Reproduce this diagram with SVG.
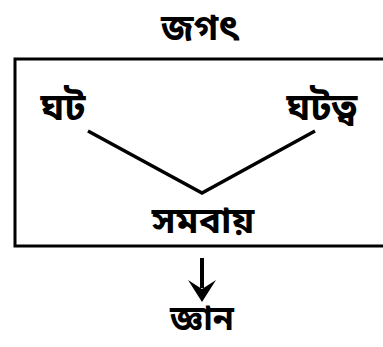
<svg xmlns="http://www.w3.org/2000/svg" width="383" height="347" viewBox="0 0 383 347">
<style>
text{font-family:"Noto Sans Bengali","Noto Sans","DejaVu Sans",sans-serif;font-weight:bold;fill:#000;text-anchor:middle}
.l{stroke:#000;stroke-width:3;fill:none}
</style>
<rect width="383" height="347" fill="#fff"/>
<g id="node-jagat"><text x="200" y="40" font-size="36">জগৎ</text></g>
<g id="frame"><path class="l" d="M384,59 H15 V246 H384"/></g>
<g id="node-ghata"><text x="63" y="120" font-size="38">ঘট</text></g>
<g id="node-ghatatva"><text x="322" y="120" font-size="38">ঘটত্ব</text></g>
<g id="node-samavaya"><text x="203" y="233" font-size="37">সমবায়</text></g>
<g id="node-jnana"><text x="202" y="330" font-size="34">জ্ঞান</text></g>
<g id="connectors">
<path d="M88,131 L202,193 L315,131" stroke="#000" stroke-width="3.5" fill="none"/>
<path d="M202,258 V288" stroke="#000" stroke-width="4" fill="none"/>
<path d="M188,280 L202,289 L216,280 L202,302 Z" fill="#000"/>
</g>
</svg>
